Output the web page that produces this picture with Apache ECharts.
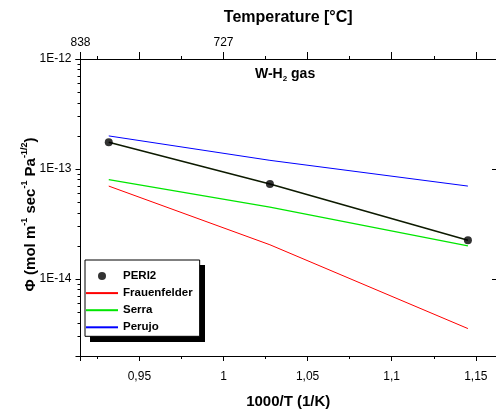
<!DOCTYPE html>
<html><head><meta charset="utf-8">
<script src="https://cdn.jsdelivr.net/npm/echarts@6/dist/echarts.min.js"></script>
<style>html,body{margin:0;padding:0;background:#fff}#c{width:496px;height:414px}</style>
</head><body><div id="c"></div>
<script>
// 1000/T (1/K) at 800, 700, 600 °C
const invT = [0.9318, 1.0276, 1.1453];
const peri2 = [1.75e-13, 7.3e-14, 2.25e-14];
const frauenfelder = [7.0e-14, 2.05e-14, 3.55e-15];
const serra = [8.0e-14, 4.5e-14, 2.0e-14];
const perujo = [2.0e-13, 1.2e-13, 7.0e-14];
const seriesNames = ['PERI2', 'Frauenfelder', 'Serra', 'Perujo'];
const topTickValues = [0.915, 1.0];
const topTickLabels = ['838', '727'];
const xRange = [0.915, 1.162];
const yRange = [2e-15, 1e-12];

const FONT = "'Liberation Sans', Arial, sans-serif";
const pair = (xs, ys) => xs.map((x, i) => [x, ys[i]]);
const near = (a, b) => Math.abs(a - b) < 1e-6;

const bottomFmt = v => {
  const k = v / 0.05;
  return near(k, Math.round(k)) ? String(+v.toFixed(2)).replace('.', ',') : '';
};
const topFmt = v => {
  for (let i = 0; i < topTickValues.length; i++) if (near(v, topTickValues[i])) return topTickLabels[i];
  return '';
};
const yFmt = v => {
  const e = Math.log10(v);
  return near(e, Math.round(e)) ? '1E' + Math.round(e) : '';
};

// legend box geometry (layout only)
const LEG = { left: 85, top: 260, width: 115, height: 77, shadow: 5 };

const noDot = { opacity: 0, color: 'rgba(0,0,0,0)', borderWidth: 0 };
const axisLineStyle = { lineStyle: { color: '#000', width: 1 } };
const chart = echarts.init(document.getElementById('c'), null, { renderer: 'canvas' });
chart.setOption({
  animation: false,
  backgroundColor: '#fff',
  title: {
    text: '{a|W-H}{s|2}{a| gas}',
    left: 255, top: 66, padding: 0,
    textStyle: {
      rich: {
        a: { fontFamily: FONT, fontWeight: 'bold', fontSize: 14, color: '#000', lineHeight: 17 },
        s: { fontFamily: FONT, fontWeight: 'bold', fontSize: 8, color: '#000', verticalAlign: 'bottom', lineHeight: 10 }
      }
    }
  },
  graphic: [{
    type: 'rect', z: 1, silent: true,
    left: LEG.left + LEG.shadow, top: LEG.top + LEG.shadow,
    shape: { width: LEG.width, height: LEG.height },
    style: { fill: '#000' }
  }],
  grid: { left: 80.5, top: 59, width: 417.5, height: 304.5, containLabel: false },
  legend: {
    z: 5,
    data: [
      { name: 'PERI2', icon: 'circle' },
      { name: 'Frauenfelder', itemStyle: noDot },
      { name: 'Serra', itemStyle: noDot },
      { name: 'Perujo', itemStyle: noDot }
    ],
    orient: 'vertical', left: LEG.left, top: LEG.top,
    width: LEG.width, height: LEG.height,
    itemWidth: 32, itemHeight: 8, itemGap: 5.1,
    padding: [10, 7, 3, 0],
    backgroundColor: '#fff', borderColor: '#000', borderWidth: 1, borderRadius: 0,
    textStyle: { fontFamily: FONT, fontWeight: 'bold', fontSize: 11.5, color: '#000' }
  },
  xAxis: [
    {
      type: 'value', position: 'bottom', min: xRange[0], max: xRange[1], splitNumber: 5,
      axisLine: { show: true, onZero: false, ...axisLineStyle },
      axisTick: { show: true, inside: false, length: 5, lineStyle: { color: '#000' } },
      minorTick: { show: true, splitNumber: 2, length: 3, lineStyle: { color: '#000' } },
      splitLine: { show: false },
      axisLabel: { formatter: bottomFmt, showMinLabel: false, showMaxLabel: false, margin: 15,
        fontFamily: FONT, fontSize: 12, color: '#000' },
      name: '1000/T (1/K)', nameLocation: 'middle', nameGap: 38, nameMoveOverlap: false,
      nameTextStyle: { fontFamily: FONT, fontWeight: 'bold', fontSize: 15, color: '#000' }
    },
    {
      type: 'value', position: 'top', min: xRange[0], max: xRange[1], splitNumber: 5,
      axisLine: { show: true, onZero: false, ...axisLineStyle },
      axisTick: { show: true, inside: false, length: 7, lineStyle: { color: '#000' } },
      minorTick: { show: true, splitNumber: 2, length: 3, lineStyle: { color: '#000' } },
      splitLine: { show: false },
      axisLabel: { formatter: topFmt, showMinLabel: true, showMaxLabel: false, margin: 10,
        fontFamily: FONT, fontSize: 12, color: '#000' },
      name: 'Temperature [°C]', nameLocation: 'middle', nameGap: 33,
      nameTextStyle: { fontFamily: FONT, fontWeight: 'bold', fontSize: 16, color: '#000' }
    }
  ],
  yAxis: [
    {
      type: 'log', position: 'left', min: yRange[0], max: yRange[1], logBase: 10,
      axisLine: { show: true, onZero: false, ...axisLineStyle },
      axisTick: { show: true, inside: false, length: 5, lineStyle: { color: '#000' } },
      minorTick: { show: true, splitNumber: 9, length: 3, lineStyle: { color: '#000' } },
      splitLine: { show: false },
      axisLabel: { formatter: yFmt, showMinLabel: false, margin: 9,
        fontFamily: FONT, fontSize: 12, color: '#000' },
      name: '{b|Φ (mol m}{s|-1}{b| sec}{s|-1}{b| Pa}{s|-1/2}{b|)}',
      nameLocation: 'middle', nameGap: 40, nameRotate: 90, nameMoveOverlap: false,
      nameTextStyle: {
        padding: [0, 14, 0, 0],
        rich: {
          b: { fontFamily: FONT, fontWeight: 'bold', fontSize: 15, color: '#000', lineHeight: 20 },
          s: { fontFamily: FONT, fontWeight: 'bold', fontSize: 9, color: '#000', lineHeight: 11, verticalAlign: 'top' }
        }
      }
    },
    {
      type: 'log', position: 'right', min: yRange[0], max: yRange[1], logBase: 10,
      axisLine: { show: true, onZero: false, ...axisLineStyle },
      axisTick: { show: true, inside: true, length: 4, lineStyle: { color: '#000' } },
      splitLine: { show: false },
      axisLabel: { show: false }
    }
  ],
  series: [
    { name: 'PERI2 fit', type: 'line', data: pair(invT, peri2), showSymbol: false, symbol: 'none',
      lineStyle: { color: '#0d1a00', width: 1.6 }, z: 3 },
    { name: seriesNames[0], type: 'scatter', data: pair(invT, peri2), symbol: 'circle', symbolSize: 8,
      itemStyle: { color: '#000' }, z: 4 },
    { name: seriesNames[1], type: 'line', data: pair(invT, frauenfelder), symbol: 'none',
      lineStyle: { color: '#ff0000', width: 1 }, itemStyle: { color: '#ff0000' } },
    { name: seriesNames[2], type: 'line', data: pair(invT, serra), symbol: 'none',
      lineStyle: { color: '#00e600', width: 1.2 }, itemStyle: { color: '#00e600' } },
    { name: seriesNames[3], type: 'line', data: pair(invT, perujo), symbol: 'none',
      lineStyle: { color: '#0000ff', width: 1 }, itemStyle: { color: '#0000ff' } }
  ]
});
</script>
</body></html>
